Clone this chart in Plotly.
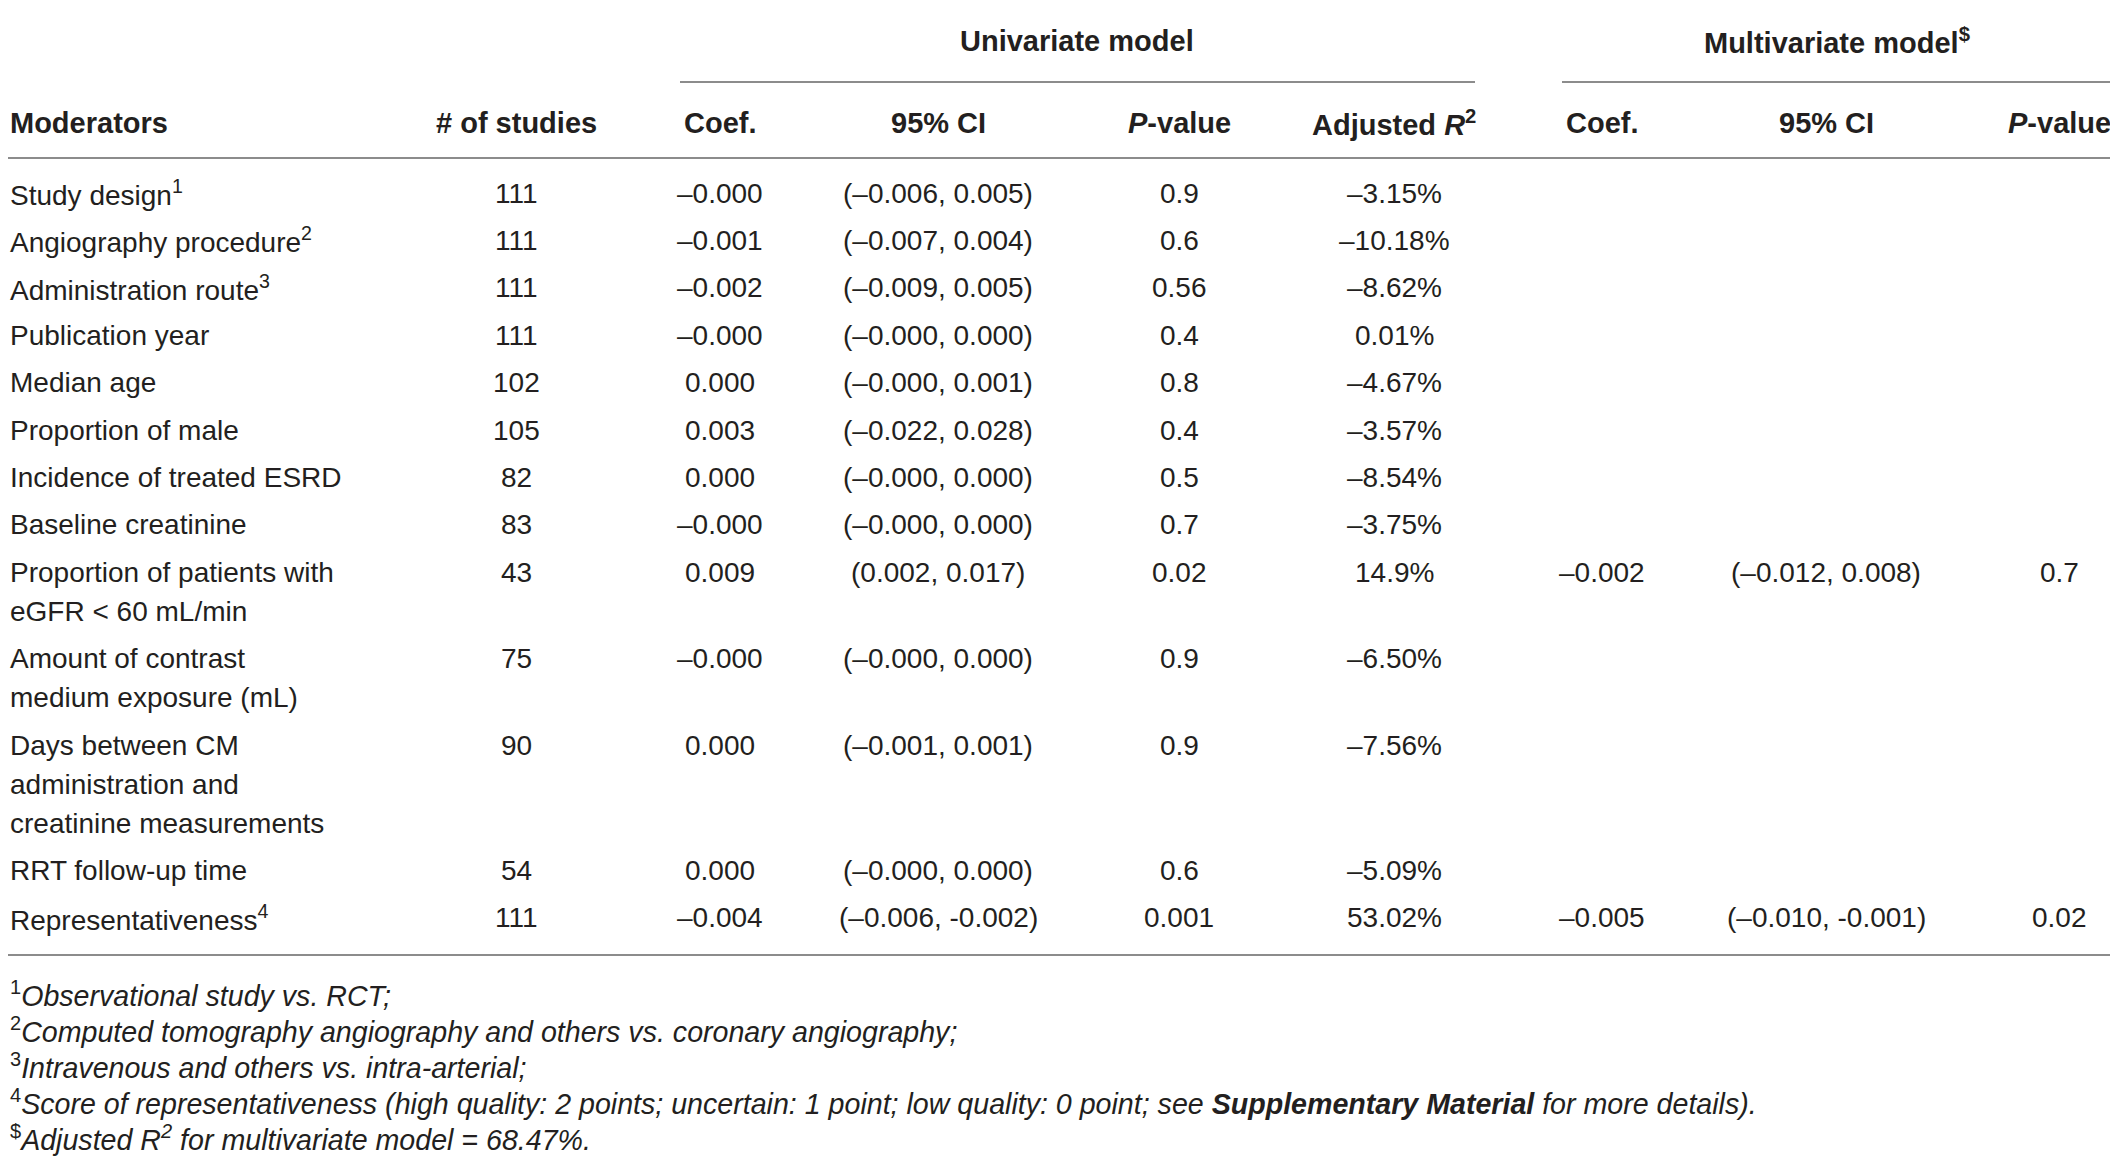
import plotly.graph_objects as go

# ---- table content ----
moderators = [
    "Study design<sup>1</sup>",
    "Angiography procedure<sup>2</sup>",
    "Administration route<sup>3</sup>",
    "Publication year",
    "Median age",
    "Proportion of male",
    "Incidence of treated ESRD",
    "Baseline creatinine",
    "Proportion of patients with\neGFR &lt; 60 mL/min",
    "Amount of contrast\nmedium exposure (mL)",
    "Days between CM\nadministration and\ncreatinine measurements",
    "RRT follow-up time",
    "Representativeness<sup>4</sup>",
]
n_studies = ["111", "111", "111", "111", "102", "105", "82", "83", "43", "75", "90", "54", "111"]
uni_coef = ["–0.000", "–0.001", "–0.002", "–0.000", "0.000", "0.003", "0.000", "–0.000",
            "0.009", "–0.000", "0.000", "0.000", "–0.004"]
uni_ci = ["(–0.006, 0.005)", "(–0.007, 0.004)", "(–0.009, 0.005)", "(–0.000, 0.000)",
          "(–0.000, 0.001)", "(–0.022, 0.028)", "(–0.000, 0.000)", "(–0.000, 0.000)",
          "(0.002, 0.017)", "(–0.000, 0.000)", "(–0.001, 0.001)", "(–0.000, 0.000)",
          "(–0.006, -0.002)"]
uni_p = ["0.9", "0.6", "0.56", "0.4", "0.8", "0.4", "0.5", "0.7", "0.02", "0.9", "0.9", "0.6", "0.001"]
uni_r2 = ["–3.15%", "–10.18%", "–8.62%", "0.01%", "–4.67%", "–3.57%", "–8.54%", "–3.75%",
          "14.9%", "–6.50%", "–7.56%", "–5.09%", "53.02%"]
multi_coef = ["", "", "", "", "", "", "", "", "–0.002", "", "", "", "–0.005"]
multi_ci = ["", "", "", "", "", "", "", "", "(–0.012, 0.008)", "", "", "", "(–0.010, -0.001)"]
multi_p = ["", "", "", "", "", "", "", "", "0.7", "", "", "", "0.02"]

col_headers = ["Moderators", "# of studies", "Coef.", "95% CI", "<i>P</i>-value",
               "Adjusted <i>R</i><sup>2</sup>", "Coef.", "95% CI", "<i>P</i>-value"]
group_headers = ["Univariate model", "Multivariate model<sup>$</sup>"]

footnotes = [
    "<sup>1</sup><i>Observational study vs. RCT;</i>",
    "<sup>2</sup><i>Computed tomography angiography and others vs. coronary angiography;</i>",
    "<sup>3</sup><i>Intravenous and others vs. intra-arterial;</i>",
    "<sup>4</sup><i>Score of representativeness (high quality: 2 points; uncertain: 1 point; "
    "low quality: 0 point; see <b>Supplementary Material</b> for more details).</i>",
    "<sup>$</sup><i>Adjusted R<sup>2</sup> for multivariate model = 68.47%.</i>",
]

columns = [moderators, n_studies, uni_coef, uni_ci, uni_p, uni_r2, multi_coef, multi_ci, multi_p]

# ---- layout (page-pixel units; the page body has an 8px margin) ----
W, H = 2118, 1159
OFF = 8
col_x = [OFF, 516, 720, 938, 1179, 1394, 1602, 1826, 2059]
group_x = [1077, 1837]
group_spans = [(680, 1475), (1562, 2114)]
header_y = [41, 123]
first_row_y = 193
row_gap = 47.4
wrap_gap = 39
foot_y0 = 994
foot_gap = 36
rule_color = "#8c8c8c"
ink = "#231f20"
FONT = "Liberation Sans"
fs = 28
fs_bold = 29
fs_foot = 28.6

fig = go.Figure()
anns = []

def add(x, y, text, anchor="center", bold=False, size=None):
    size = size or (fs_bold if bold else fs)
    anns.append(dict(x=x, y=y, xref="x", yref="y", text=f"<b>{text}</b>" if bold else text,
                     showarrow=False, xanchor=anchor, yanchor="middle",
                     font=dict(family=FONT, size=size, color=ink)))

# headers
for gx, gtxt in zip(group_x, group_headers):
    add(gx, header_y[0], gtxt, bold=True)
for i, h in enumerate(col_headers):
    add(col_x[i], header_y[1], h, anchor="left" if i == 0 else "center", bold=True)

# body rows
y = first_row_y
for r in range(len(moderators)):
    lines = moderators[r].split("\n")
    for k, ln in enumerate(lines):
        add(col_x[0], y + k * wrap_gap, ln, anchor="left")
    for c in range(1, len(columns)):
        if columns[c][r]:
            add(col_x[c], y, columns[c][r])
    y += (len(lines) - 1) * wrap_gap + row_gap

# footnotes
for i, fn in enumerate(footnotes):
    add(col_x[0], foot_y0 + i * foot_gap, fn, anchor="left", size=fs_foot)

# rules
shapes = []
for (x0, x1, yy) in [(0, W, 6), (0, W, 158), (0, W, 955)] + [(a, b, 82) for a, b in group_spans]:
    shapes.append(dict(type="line", xref="x", yref="y", x0=x0, x1=x1, y0=yy, y1=yy,
                       line=dict(color=rule_color, width=2)))

fig.update_layout(
    width=W - OFF, height=H - OFF,
    margin=dict(l=0, r=0, t=0, b=0),
    paper_bgcolor="white", plot_bgcolor="white",
    xaxis=dict(range=[OFF, W], visible=False, fixedrange=True),
    yaxis=dict(range=[H, OFF], visible=False, fixedrange=True),
    annotations=anns, shapes=shapes, showlegend=False,
)
fig.write_html("out.html")
